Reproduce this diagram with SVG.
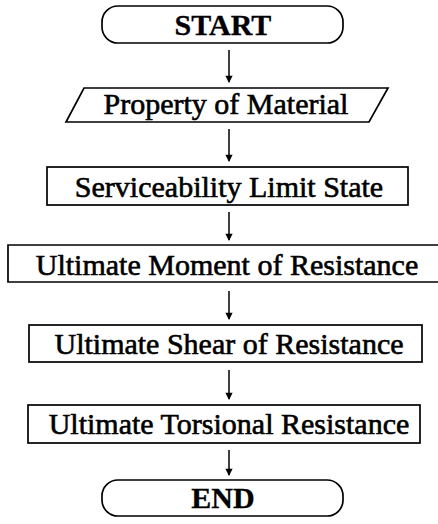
<svg xmlns="http://www.w3.org/2000/svg" width="438" height="524" viewBox="0 0 438 524">
  <style>
    .shape { fill: none; stroke: #000; stroke-width: 1.7; }
    .label { font-family: "Liberation Serif", "Times New Roman", serif; font-size: 30px; fill: #000; stroke: #000; stroke-width: 0.6; text-anchor: middle; }
    .terminal { font-weight: bold; stroke-width: 0.3; }
    .flow { stroke: #000; stroke-width: 1.5; fill: none; marker-end: url(#head); }
  </style>
  <defs>
    <marker id="head" viewBox="0 0 8 10" refX="7" refY="5" markerWidth="8" markerHeight="9" markerUnits="userSpaceOnUse" orient="auto">
      <path d="M0,1 L8,5 L0,9 z" fill="#000"/>
    </marker>
  </defs>
  <rect width="438" height="524" fill="#fff"/>

  <g id="start">
    <rect class="shape" x="102" y="6" width="241" height="37" rx="16" ry="16"/>
    <text class="label terminal" x="223" y="35">START</text>
  </g>

  <g id="material">
    <polygon class="shape" points="84,88 388,88 369,122 66,122"/>
    <text class="label" x="226" y="114">Property of Material</text>
  </g>

  <g id="serviceability">
    <rect class="shape" x="47" y="167" width="361" height="38"/>
    <text class="label" x="229" y="197">Serviceability Limit State</text>
  </g>

  <g id="moment">
    <path class="shape" d="M438,245 L8,245 L8,282 L438,282"/>
    <text class="label" x="227" y="275">Ultimate Moment of Resistance</text>
  </g>

  <g id="shear">
    <rect class="shape" x="29" y="325" width="393" height="37"/>
    <text class="label" x="229" y="354">Ultimate Shear of Resistance</text>
  </g>

  <g id="torsion">
    <rect class="shape" x="28" y="405" width="392" height="38"/>
    <text class="label" x="229" y="434">Ultimate Torsional Resistance</text>
  </g>

  <g id="end">
    <rect class="shape" x="102" y="480" width="241" height="36" rx="16" ry="16"/>
    <text class="label terminal" x="223" y="508">END</text>
  </g>

  <g id="connectors">
    <line class="flow" x1="229" y1="50" x2="229" y2="82"/>
    <line class="flow" x1="229" y1="129" x2="229" y2="161"/>
    <line class="flow" x1="229" y1="212" x2="229" y2="240"/>
    <line class="flow" x1="229" y1="291" x2="229" y2="319"/>
    <line class="flow" x1="229" y1="370" x2="229" y2="399"/>
    <line class="flow" x1="229" y1="450" x2="229" y2="475"/>
  </g>
</svg>
